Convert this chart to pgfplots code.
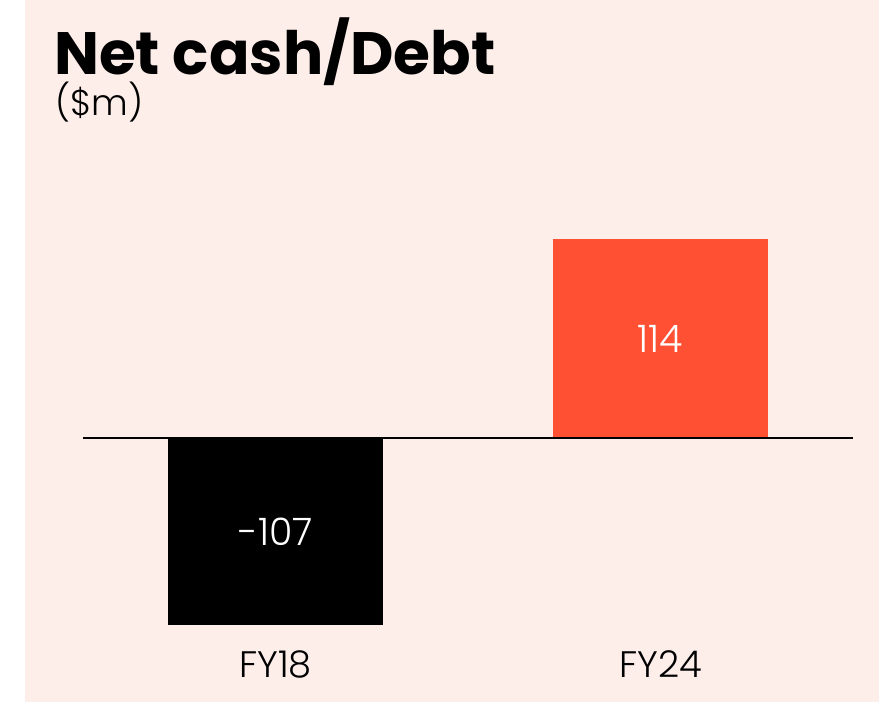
\documentclass[border=0pt]{standalone}
\usepackage{fontspec}
\setmainfont{Poppins}
\IfFontExistsTF{Poppins Light}{\newfontfamily\lightfont{Poppins Light}}{\newfontfamily\lightfont{Poppins}}
\usepackage{pgfplots}
\pgfplotsset{compat=1.18}
\definecolor{bgpink}{RGB}{253,238,234}
\definecolor{barred}{RGB}{255,80,51}
\begin{document}
\begin{tikzpicture}
\fill[white] (0bp,0bp) rectangle (879bp,702bp);
\fill[bgpink] (25bp,0bp) rectangle (879bp,702bp);
\node[anchor=base west, inner sep=0, font=\fontsize{60}{60}\selectfont\bfseries] at (54bp,627bp) {Net cash/Debt};
\node[anchor=base west, inner sep=0, font=\fontsize{36}{36}\selectfont\lightfont] at (55bp,586bp) {(\$m)};
\begin{axis}[
  at={(83bp,72bp)}, anchor=south west,
  scale only axis, width=770bp, height=401.5bp,
  xmin=-0.5, xmax=1.5, ymin=-110, ymax=120,
  axis line style={draw=none},
  tick style={draw=none},
  ytick=\empty,
  xtick={0,1}, xticklabels={FY18,FY24},
  x tick label style={anchor=base, yshift=-43bp, font=\fontsize{37}{37}\selectfont\lightfont},
  ybar, bar width=0.556,
  clip=false,
]
\addplot[fill=black, draw=none, bar shift=0pt] coordinates {(0,-107)};
\addplot[fill=barred, draw=none, bar shift=0pt] coordinates {(1,114)};
\draw[black, line width=1.5bp] (axis cs:-0.5,0) -- (axis cs:1.5,0);
\node[white, inner sep=0, font=\fontsize{38}{38}\selectfont\lightfont] at (axis cs:0,-53.5) {-107};
\node[white, inner sep=0, font=\fontsize{38}{38}\selectfont\lightfont] at (axis cs:1,57) {114};
\end{axis}
\end{tikzpicture}
\end{document}
